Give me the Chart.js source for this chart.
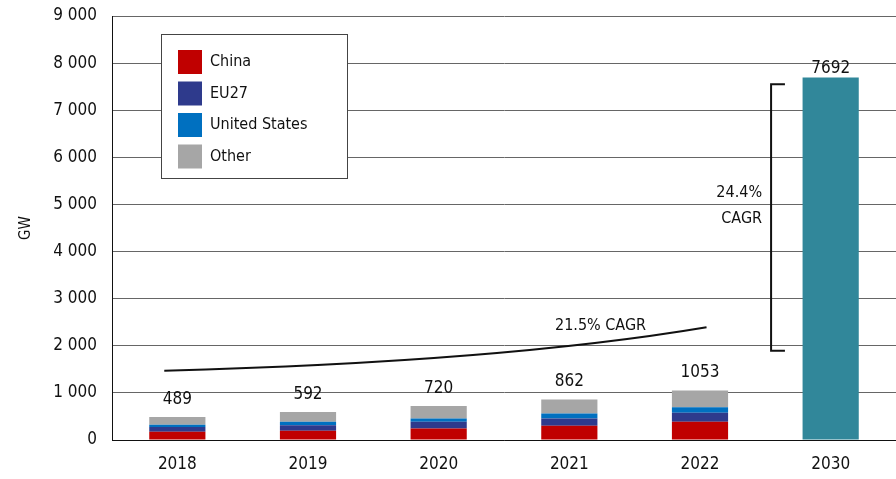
<!DOCTYPE html>
<html>
<head>
<meta charset="utf-8">
<script src="https://cdn.jsdelivr.net/npm/chart.js@4/dist/chart.umd.min.js"></script>
<style>
  html, body { margin: 0; padding: 0; background: #fff; }
  #wrap { width: 896px; height: 479px; }
</style>
</head>
<body>
<div id="wrap"><canvas id="myChart" width="896" height="479"></canvas></div>
<script>
// data
const years = ["2018", "2019", "2020", "2021", "2022", "2030"];
const china = [175, 195, 245, 305, 390, null];
const eu27 = [100, 120, 145, 150, 190, null];
const usa = [50, 70, 65, 105, 113, null];
const other = [164, 207, 265, 302, 360, null];
const outlook2030 = [null, null, null, null, null, 7692];
const totals = [489, 592, 720, 862, 1053, 7692];
const yTicks = [0, 1000, 2000, 3000, 4000, 5000, 6000, 7000, 8000, 9000];

// annotation anchors (category index, GW)
const cagrCurve = [[-0.1, 1471], [2.47, 1656], [4.05, 2392]];
const cagrBracket = { x: 4.544, xEnd: 4.65, from: 1895, to: 7550 };

const FONT = "'DejaVu Sans Condensed', 'DejaVu Sans', sans-serif";

function fmt(v) {
  return String(v).replace(/\B(?=(\d{3})+(?!\d))/g, " ");
}

const extras = {
  id: "extras",
  afterDatasetsDraw(chart) {
    const ctx = chart.ctx;
    const x = chart.scales.x, y = chart.scales.y;
    ctx.save();
    ctx.fillStyle = "#111";
    ctx.font = "17px " + FONT;
    ctx.textAlign = "center";
    ctx.textBaseline = "bottom";
    totals.forEach((t, i) => {
      ctx.fillText(String(t), x.getPixelForValue(i), y.getPixelForValue(t) - (i === 5 ? 1 : 9));
    });

    // 21.5% CAGR curve
    const p = cagrCurve.map(c => [x.getPixelForValue(c[0]), y.getPixelForValue(c[1])]);
    ctx.strokeStyle = "#111";
    ctx.lineWidth = 2;
    ctx.beginPath();
    ctx.moveTo(p[0][0], p[0][1]);
    ctx.quadraticCurveTo(p[1][0], p[1][1], p[2][0], p[2][1]);
    ctx.stroke();
    ctx.font = "16px " + FONT;
    ctx.textAlign = "left";
    ctx.textBaseline = "middle";
    ctx.fillText("21.5% CAGR", 555, y.getPixelForValue(2420));

    // 24.4% CAGR bracket
    const bx = x.getPixelForValue(cagrBracket.x), bx2 = x.getPixelForValue(cagrBracket.xEnd);
    const by1 = y.getPixelForValue(cagrBracket.to), by2 = y.getPixelForValue(cagrBracket.from);
    ctx.lineWidth = 2;
    ctx.beginPath();
    ctx.moveTo(bx2, by1); ctx.lineTo(bx, by1); ctx.lineTo(bx, by2); ctx.lineTo(bx2, by2);
    ctx.stroke();
    ctx.textAlign = "right";
    ctx.fillText("24.4%", bx - 9, 193);
    ctx.fillText("CAGR", bx - 9, 219);

    // legend box
    const lx = 161, ly = 34, lw = 186, lh = 144;
    ctx.fillStyle = "#fff";
    ctx.fillRect(lx, ly, lw, lh);
    ctx.strokeStyle = "#444";
    ctx.lineWidth = 1;
    ctx.strokeRect(lx + 0.5, ly + 0.5, lw, lh);
    chart.data.datasets.slice(0, 4).forEach((ds, i) => {
      const cy = 62 + i * 31.5;
      ctx.fillStyle = ds.backgroundColor;
      ctx.fillRect(178, cy - 12, 24, 24);
      ctx.fillStyle = "#111";
      ctx.textAlign = "left";
      ctx.fillText(ds.label, 210, cy);
    });
    ctx.restore();
  }
};

const ctx = document.getElementById("myChart").getContext("2d");
const myChart = new Chart(ctx, {
  type: "bar",
  data: {
    labels: years,
    datasets: [
      { label: "China", data: china, backgroundColor: "#c00000" },
      { label: "EU27", data: eu27, backgroundColor: "#2e3a8c" },
      { label: "United States", data: usa, backgroundColor: "#0070c0" },
      { label: "Other", data: other, backgroundColor: "#a6a6a6" },
      { label: "2030", data: outlook2030, backgroundColor: "#31879a" }
    ]
  },
  options: {
    responsive: false,
    animation: false,
    layout: { padding: { top: 16, right: 0, left: 0, bottom: 0 } },
    datasets: { bar: { categoryPercentage: 1, barPercentage: 0.43, borderWidth: 0 } },
    plugins: { legend: { display: false }, tooltip: { enabled: false } },
    scales: {
      x: {
        stacked: true,
        grid: { display: false, drawTicks: false },
        border: { color: "#111", width: 1 },
        ticks: { color: "#111", font: { family: FONT, size: 17 }, padding: 14 },
        afterFit: s => { s.height = 39; s.paddingLeft = 0; s.paddingRight = 0; }
      },
      y: {
        stacked: true,
        min: 0,
        max: 9000,
        afterBuildTicks: s => { s.ticks = yTicks.map(v => ({ value: v })); },
        grid: { color: "#666", lineWidth: 1, drawTicks: false },
        border: { color: "#111", width: 1 },
        ticks: { color: "#111", font: { family: FONT, size: 17 }, padding: 15, callback: v => fmt(v) },
        title: { display: true, text: "GW", color: "#111", font: { family: FONT, size: 15 }, padding: { top: 17, bottom: 20 } },
        afterFit: s => { s.width = 112; s.paddingTop = 0; s.paddingBottom = 0; }
      }
    }
  },
  plugins: [extras]
});
</script>
</body>
</html>
